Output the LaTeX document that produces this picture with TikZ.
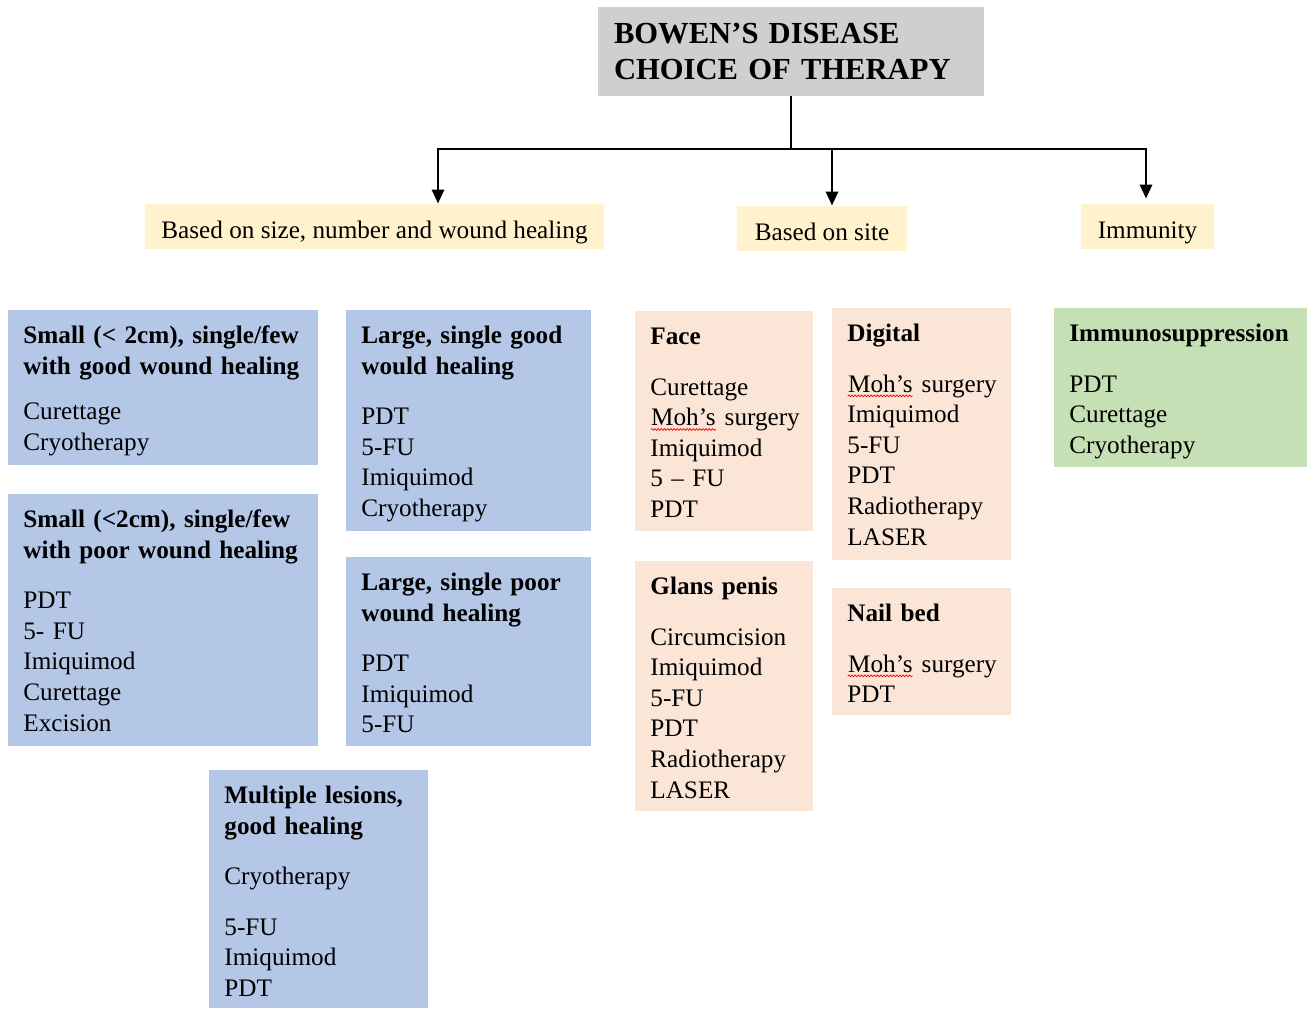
\documentclass[tikz,border=0pt]{standalone}
\usepackage{fontspec}
\setmainfont{Liberation Serif}
\usetikzlibrary{arrows.meta,positioning,decorations.pathmorphing}
\definecolor{titlegray}{HTML}{D0CECE}
\definecolor{tagyellow}{HTML}{FFF2CC}
\definecolor{sizeblue}{HTML}{B4C7E7}
\definecolor{sitepeach}{HTML}{FBE5D6}
\definecolor{immgreen}{HTML}{C5E0B4}
\newcommand{\spellwave}[1]{\tikz[baseline=(word.base)]{\node[inner sep=0pt] (word) {#1};
    \draw[red,line width=0.35pt,decorate,decoration={snake,amplitude=0.45pt,segment length=1.6pt}]
    ([yshift=-1.6pt]word.south west) -- ([yshift=-1.6pt]word.south east);}}
\tikzset{>={Triangle[width=6pt,length=7pt]}}

\begin{document}
\begin{tikzpicture}[x=0.5pt,y=-0.5pt,font=\fontsize{12.6}{15.3}\selectfont,
    link/.style={line width=1.45pt},
    tag/.style={fill=tagyellow,minimum height=22.5pt,inner sep=0pt,text height=11.5pt,text depth=0pt},
    panel/.style 2 args={anchor=north west,inner xsep=7.5pt,inner ysep=0pt,align=left,
        text width=#1,text height=16.5pt,text depth=#2}]
    \useasboundingbox (0,0) rectangle (1307,1008);
    % title and the three criteria
    \node[fill=titlegray,text width=177pt,inner xsep=8pt,minimum height=44.5pt,align=left,
        font=\fontsize{15.3}{18}\selectfont\bfseries] (title) at (791,51.5)
        {BOWEN’S DISEASE\\CHOICE OF THERAPY};
    \node[tag,minimum width=229.5pt] (size) at (374.5,226.5) {Based on size, number and wound healing};
    \node[tag,minimum width=85pt] (site) at (822,228.5) {Based on site};
    \node[tag,minimum width=66.5pt] (immunity) at (1147.5,226.5) {Immunity};
    \coordinate (split) at (791,149);
    \coordinate (sizeturn) at (438,149);
    \coordinate (siteturn) at (832,149);
    \coordinate (immturn) at (1146,149);
    \draw[link] (title.south) -- (split);
    \draw[link,->] (split) -- (sizeturn) -- (sizeturn |- size.north);
    \draw[link,->] (siteturn) -- (siteturn |- site.north);
    \draw[link,->,shorten >=2.5pt] (split) -- (immturn) -- (immturn |- immunity.north);
    % size, number and wound healing
    \node[panel={140pt}{61pt},fill=sizeblue] (smallgood) at (8,310)
        {\textbf{Small (< 2cm), single/few}\\\textbf{with good wound healing}\\[7.5pt]
        Curettage\\Cryotherapy};
    \node[panel={140pt}{109.5pt},fill=sizeblue] (smallpoor) at (8,494)
        {\textbf{Small (<2cm), single/few}\\\textbf{with poor wound healing}\\[10pt]
        PDT\\5- FU\\Imiquimod\\Curettage\\Excision};
    \node[panel={107.5pt}{94pt},fill=sizeblue] (largegood) at (346,310)
        {\textbf{Large, single good}\\\textbf{would healing}\\[10pt]
        PDT\\5-FU\\Imiquimod\\Cryotherapy};
    \node[panel={107.5pt}{78pt},fill=sizeblue] (largepoor) at (346,557)
        {\textbf{Large, single poor}\\\textbf{wound healing}\\[10pt]
        PDT\\Imiquimod\\5-FU};
    \node[panel={94.5pt}{102.5pt},fill=sizeblue] (multiple) at (209,770)
        {\textbf{Multiple lesions,}\\\textbf{good healing}\\[10pt]
        Cryotherapy\\[10pt]5-FU\\Imiquimod\\PDT};
    % site
    \node[panel={74pt}{93.5pt},fill=sitepeach] (face) at (635,311)
        {\textbf{Face}\\[10pt]
        Curettage\\\spellwave{Moh’s}~surgery\\Imiquimod\\5 – FU\\PDT};
    \node[panel={74.5pt}{109.5pt},fill=sitepeach] (digital) at (832,308)
        {\textbf{Digital}\\[10pt]
        \spellwave{Moh’s}~surgery\\Imiquimod\\5-FU\\PDT\\Radiotherapy\\LASER};
    \node[panel={74pt}{108.5pt},fill=sitepeach] (glans) at (635,561)
        {\textbf{Glans penis}\\[10pt]
        Circumcision\\Imiquimod\\5-FU\\PDT\\Radiotherapy\\LASER};
    \node[panel={74.5pt}{47pt},fill=sitepeach] (nailbed) at (832,588)
        {\textbf{Nail bed}\\[10pt]
        \spellwave{Moh’s}~surgery\\PDT};
    % immunity
    \node[panel={113pt}{63pt},fill=immgreen] (immuno) at (1054,308)
        {\textbf{Immunosuppression}\\[10pt]
        PDT\\Curettage\\Cryotherapy};
\end{tikzpicture}
\end{document}
